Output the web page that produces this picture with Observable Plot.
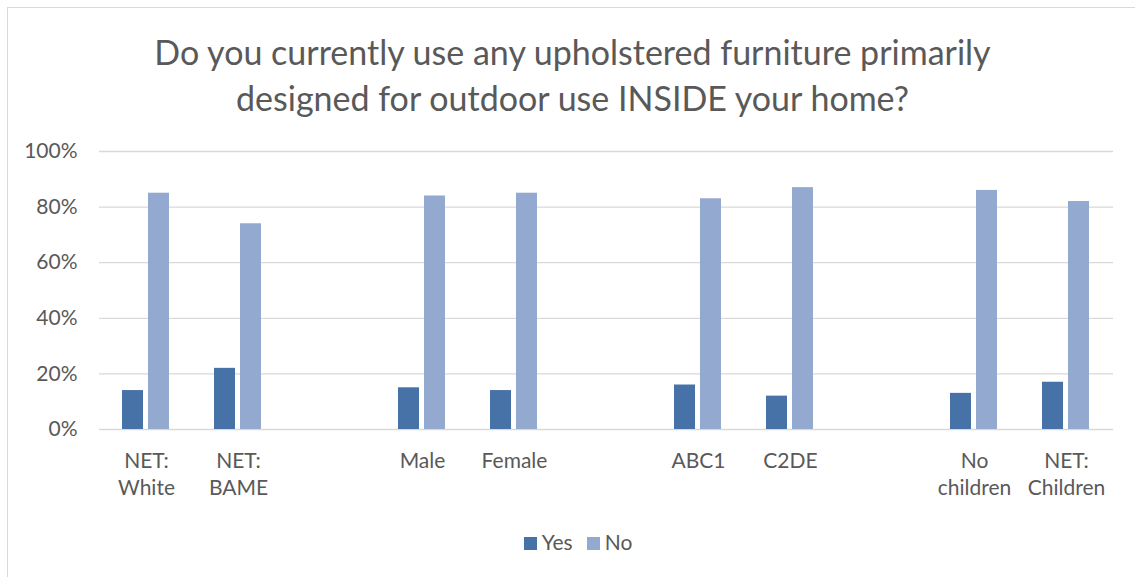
<!DOCTYPE html>
<html>
<head>
<meta charset="utf-8">
<script src="https://cdn.jsdelivr.net/npm/d3@7"></script>
<script src="https://cdn.jsdelivr.net/npm/@observablehq/plot@0.6"></script>
<style>
  html, body { margin: 0; padding: 0; background: #fff; }
  body { width: 1135px; height: 577px; overflow: hidden; position: relative; font-family: Lato, "Open Sans", sans-serif; color: #595959; }
  #frame { position: absolute; left: 7px; top: 7px; width: 1140px; height: 590px; border: 1px solid #d9d9d9; box-sizing: border-box; }
  #title { position: absolute; left: 0; top: 29px; width: 1145px; text-align: center; font-size: 34px; line-height: 46px; color: #595959; }
  #chart { position: absolute; left: 0; top: 130px; }
  #legend { position: absolute; left: 0; top: 529px; width: 1156px; text-align: center; font-size: 21px; line-height: 26px; }
  .sw { display: inline-block; width: 13px; height: 13px; vertical-align: 0px; margin-right: 5px; }
  .item { display: inline-block; margin: 0 7px; }
</style>
</head>
<body>
<div id="frame"></div>
<div id="title">Do you currently use any upholstered furniture primarily<br>designed for outdoor use INSIDE your home?</div>
<div id="chart"></div>
<div id="legend"></div>
<script>
// Category slots (blank spacers separate the groups)
const slots = ["NET: White", "NET: BAME", "gap1", "Male", "Female", "gap2", "ABC1", "C2DE", "gap3", "No children", "NET: Children"];
const categories = ["NET: White", "NET: BAME", "Male", "Female", "ABC1", "C2DE", "No children", "NET: Children"];
const tickLabels = ["NET:\nWhite", "NET:\nBAME", "Male", "Female", "ABC1", "C2DE", "No\nchildren", "NET:\nChildren"];
const yesValues = [14, 22, 15, 14, 16, 12, 13, 17];
const noValues = [85, 74, 84, 85, 83, 87, 86, 82];
const series = ["Yes", "No"];
const colors = ["#4672a7", "#94a9cf"];
const yTicks = [0, 20, 40, 60, 80, 100];

const yesData = categories.map((c, i) => ({category: c, value: yesValues[i]}));
const noData = categories.map((c, i) => ({category: c, value: noValues[i]}));
const labelOf = new Map(categories.map((c, i) => [c, tickLabels[i]]));

const chart = Plot.plot({
  width: 1135,
  height: 380,
  marginLeft: 99,
  marginRight: 22,
  marginTop: 21,
  marginBottom: 81,
  style: {fontFamily: "Lato, 'Open Sans', sans-serif", color: "#595959", background: "transparent"},
  x: {domain: slots, padding: 0, axis: null},
  y: {domain: [0, 100], axis: null},
  marks: [
    Plot.ruleY(yTicks, {stroke: "#d9d9d9", strokeWidth: 1.3}),
    Plot.barY(yesData, {x: "category", y: "value", fill: colors[0], insetLeft: 22, insetRight: 49}),
    Plot.barY(noData, {x: "category", y: "value", fill: colors[1], insetLeft: 48, insetRight: 23}),
    Plot.axisY(yTicks, {tickSize: 0, tickPadding: 22, fontSize: 21, fill: "#595959", label: null, tickFormat: d => d + "%"}),
    Plot.axisX(categories, {tickSize: 0, tickPadding: 19, fontSize: 21, fill: "#595959", label: null, lineHeight: 1.29, tickFormat: d => labelOf.get(d) ?? ""})
  ]
});
document.getElementById("chart").appendChild(chart);

const legend = document.getElementById("legend");
series.forEach((s, i) => {
  const item = document.createElement("span");
  item.className = "item";
  item.innerHTML = `<span class="sw" style="background:${colors[i]}"></span>${s}`;
  legend.appendChild(item);
});
</script>
</body>
</html>
